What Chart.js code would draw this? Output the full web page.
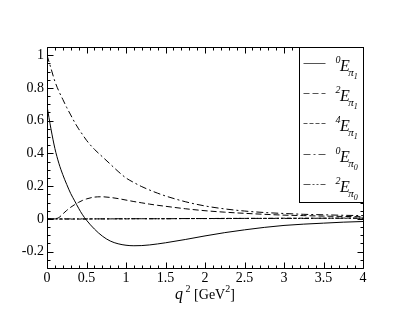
<!DOCTYPE html>
<html>
<head>
<meta charset="utf-8">
<script src="https://cdn.jsdelivr.net/npm/chart.js@4/dist/chart.umd.min.js"></script>
<style>
html,body{margin:0;padding:0;background:#fff;}
#wrap{width:409px;height:316px;}
</style>
</head>
<body>
<div id="wrap"><canvas id="c" width="409" height="316"></canvas></div>
<script>
// ---- data ----
const qSquared = [0,0.05,0.1,0.15,0.2,0.25,0.3,0.35,0.4,0.45,0.5,0.6,0.7,0.8,0.9,1.0,1.1,1.2,1.3,1.4,1.5,1.75,2.0,2.25,2.5,2.75,3.0,3.25,3.5,3.75,4.0];
const E0pi1 = [0.69,0.55,0.43,0.34,0.27,0.21,0.155,0.11,0.065,0.025,-0.008,-0.062,-0.105,-0.135,-0.152,-0.161,-0.164,-0.163,-0.159,-0.153,-0.146,-0.126,-0.104,-0.084,-0.067,-0.052,-0.040,-0.032,-0.026,-0.020,-0.016];
const E2pi1 = [0,0,0.001,0.008,0.03,0.052,0.071,0.087,0.101,0.113,0.122,0.133,0.135,0.131,0.124,0.115,0.106,0.098,0.09,0.083,0.077,0.062,0.05,0.041,0.034,0.028,0.023,0.02,0.017,0.015,0.013];
const E4pi1 = [0,0,0,-0.001,-0.001,-0.001,-0.001,-0.001,-0.001,-0.001,-0.001,0,0,0,0,0,0.001,0.001,0.001,0.001,0.001,0.002,0.002,0.003,0.003,0.003,0.004,0.004,0.004,0.005,0.005];
const E0pi0 = [1.0,0.92,0.84,0.78,0.73,0.68,0.635,0.59,0.55,0.515,0.48,0.425,0.38,0.335,0.29,0.25,0.222,0.197,0.176,0.157,0.14,0.105,0.079,0.061,0.048,0.039,0.033,0.028,0.025,0.022,0.02];
const E2pi0 = [0,0,0,0,0,0,0,0,0,0,0,0,0,0,0.001,0.001,0.001,0.001,0.001,0.001,0.001,0.002,0.002,0.002,0.003,0.003,0.003,0.003,0.004,0.004,0.004];
const xTickValues = [0,0.5,1,1.5,2,2.5,3,3.5,4];
const xTickLabels = ["0","0.5","1","1.5","2","2.5","3","3.5","4"];
const yTickValues = [-0.2,0,0.2,0.4,0.6,0.8,1];
const yTickLabels = ["-0.2","0","0.2","0.4","0.6","0.8","1"];
// legend labels: superscript, base, subscript letter, sub-subscript
const legendSup = ["0","2","4","0","2"];
const legendSubSub = ["1","1","1","0","0"];

const SERIF = '"Liberation Serif","DejaVu Serif",serif';

function pts(ys){ return qSquared.map((x,i)=>({x:x,y:ys[i]})); }

const lineStyles = [[],[6,3],[4,2],[7,3,2,3],[7,2,2,2,2,2]];
const seriesVals = [E0pi1,E2pi1,E4pi1,E0pi0,E2pi0];

const datasets = seriesVals.map((v,i)=>({
  label: legendSup[i]+"E_pi"+legendSubSub[i],
  data: pts(v),
  borderColor:'#000',
  borderWidth:1,
  borderDash: lineStyles[i],
  pointRadius:0,
  fill:false,
  cubicInterpolationMode:'monotone'
}));

const framePlugin = {
  id:'frame',
  afterDatasetsDraw(chart){
    const ctx = chart.ctx, a = chart.chartArea;
    const xs = chart.scales.x, ys = chart.scales.y;
    ctx.save();
    ctx.strokeStyle = '#000';
    ctx.lineWidth = 1;
    ctx.setLineDash([]);
    const L = Math.round(a.left)+0.5, R = Math.round(a.right)+0.5, T = Math.round(a.top)+0.5, B = Math.round(a.bottom)+0.5;
    ctx.beginPath();
    ctx.rect(L, T, R-L, B-T);
    ctx.stroke();
    ctx.beginPath();
    for(let k=0;k<=40;k++){
      const v = k/10;
      const p = Math.round(xs.getPixelForValue(v))+0.5;
      const len = (k%5===0)?6:3;
      ctx.moveTo(p,B); ctx.lineTo(p,B-len);
      ctx.moveTo(p,T); ctx.lineTo(p,T+len);
    }
    for(let k=-6;k<=21;k++){
      const v = k*0.05;
      const p = Math.round(ys.getPixelForValue(v))+0.5;
      const len = (k%4===0)?6:3;
      ctx.moveTo(L,p); ctx.lineTo(L+len,p);
      ctx.moveTo(R,p); ctx.lineTo(R-len,p);
    }
    ctx.stroke();
    ctx.restore();
  },
  afterDraw(chart){
    const ctx = chart.ctx, a = chart.chartArea;
    ctx.save();
    ctx.fillStyle = '#000';
    ctx.textBaseline = 'alphabetic';
    // x-axis title: q^2 [GeV^2]
    const parts = [
      {t:'q', f:'italic 16px '+SERIF, dy:0},
      {t:' 2', f:'10px '+SERIF, dy:-7},
      {t:' [GeV', f:'14px '+SERIF, dy:0},
      {t:'2', f:'10px '+SERIF, dy:-7},
      {t:']', f:'14px '+SERIF, dy:0}
    ];
    let w = 0;
    parts.forEach(p=>{ctx.font=p.f; p.w=ctx.measureText(p.t).width; w+=p.w;});
    let x = (a.left+a.right)/2 - w/2;
    const base = 299;
    parts.forEach(p=>{ctx.font=p.f; ctx.fillText(p.t,x,base+p.dy); x+=p.w;});

    // legend box
    const bw = 64, bh = 155;
    const bx = Math.round(a.right - bw)+0.5, by = Math.round(a.top)+0.5;
    ctx.fillStyle='#fff';
    ctx.fillRect(bx,by,bw,bh);
    ctx.strokeStyle='#000';
    ctx.lineWidth=1;
    ctx.strokeRect(bx,by,bw,bh);
    ctx.fillStyle='#000';
    const rows = [16,46,76,107,137];
    chart.data.datasets.forEach((ds,i)=>{
      const y = Math.round(a.top + rows[i])+0.5;
      ctx.strokeStyle='#555';
      ctx.setLineDash(ds.borderDash);
      ctx.beginPath();
      ctx.moveTo(bx+4,y); ctx.lineTo(bx+26,y);
      ctx.stroke();
      ctx.setLineDash([]);
      let tx = bx+36;
      ctx.font = 'italic 10px '+SERIF;
      ctx.fillText(legendSup[i], tx, y-1);
      tx += ctx.measureText(legendSup[i]).width - 0.5;
      ctx.font = 'italic 16px '+SERIF;
      ctx.fillText('E', tx, y+7);
      tx += ctx.measureText('E').width - 1.5;
      ctx.font = 'italic 11px '+SERIF;
      ctx.fillText('\u03C0', tx, y+12);
      tx += ctx.measureText('\u03C0').width;
      ctx.font = 'italic 8px '+SERIF;
      ctx.fillText(legendSubSub[i], tx, y+15);
    });
    ctx.restore();
  }
};

new Chart(document.getElementById('c'), {
  type:'line',
  data:{datasets:datasets},
  options:{
    responsive:false,
    animation:false,
    parsing:true,
    layout:{padding:{top:47,right:46,left:0,bottom:0}},
    plugins:{legend:{display:false},tooltip:{enabled:false}},
    scales:{
      x:{
        type:'linear', min:0, max:4,
        afterBuildTicks(s){ s.ticks = xTickValues.map(v=>({value:v})); },
        afterFit(s){ s.height = 48; },
        grid:{display:false, drawTicks:false},
        border:{display:false},
        ticks:{
          padding:2, color:'#000', maxRotation:0, autoSkip:false,
          font:{family:SERIF, size:14},
          callback(v){ const i = xTickValues.indexOf(v); return i>=0?xTickLabels[i]:''; }
        }
      },
      y:{
        type:'linear', min:-0.3, max:1.05,
        afterBuildTicks(s){ s.ticks = yTickValues.map(v=>({value:v})); },
        afterFit(s){ s.width = 47; },
        grid:{display:false, drawTicks:false},
        border:{display:false},
        ticks:{
          padding:3, color:'#000', autoSkip:false,
          font:{family:SERIF, size:14},
          callback(v){ const i = yTickValues.indexOf(v); return i>=0?yTickLabels[i]:''; }
        }
      }
    }
  },
  plugins:[framePlugin]
});
</script>
</body>
</html>
